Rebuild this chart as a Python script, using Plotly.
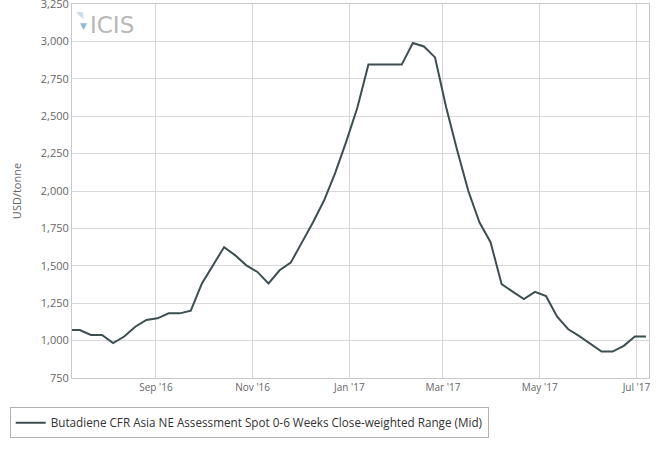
import plotly.graph_objects as go

dates = [
    "2016-07-08", "2016-07-15", "2016-07-22", "2016-07-29", "2016-08-05", "2016-08-12",
    "2016-08-19", "2016-08-26", "2016-09-02", "2016-09-09", "2016-09-16", "2016-09-23",
    "2016-09-30", "2016-10-07", "2016-10-14", "2016-10-21", "2016-10-28", "2016-11-04",
    "2016-11-11", "2016-11-18", "2016-11-25", "2016-12-02", "2016-12-09", "2016-12-16",
    "2016-12-23", "2016-12-30", "2017-01-06", "2017-01-13", "2017-01-20", "2017-01-27",
    "2017-02-03", "2017-02-10", "2017-02-17", "2017-02-24", "2017-03-03", "2017-03-10",
    "2017-03-17", "2017-03-24", "2017-03-31", "2017-04-07", "2017-04-14", "2017-04-21",
    "2017-04-28", "2017-05-05", "2017-05-12", "2017-05-19", "2017-05-26", "2017-06-02",
    "2017-06-09", "2017-06-16", "2017-06-23", "2017-06-30", "2017-07-07",
]
values = [
    1071, 1071, 1038, 1038, 983, 1027,
    1093, 1138, 1149, 1182, 1182, 1200,
    1382, 1503, 1625, 1570, 1503, 1459,
    1382, 1470, 1521, 1655, 1790, 1936,
    2120, 2330, 2556, 2845, 2845, 2845,
    2845, 2989, 2966, 2893, 2560, 2270,
    2000, 1791, 1658, 1377, 1327, 1277,
    1326, 1297, 1160, 1076, 1030, 980,
    927, 927, 965, 1027, 1027,
]
series_name = "Butadiene CFR Asia NE Assessment Spot 0-6 Weeks Close-weighted Range (Mid)"
y_title = "USD/tonne"
font_family = "Open Sans, DejaVu Sans, sans-serif"

fig = go.Figure()
fig.add_trace(go.Scatter(
    x=dates, y=values, mode="lines", name=series_name,
    line=dict(color="#3d4e50", width=2),
    showlegend=True,
))

fig.update_layout(
    width=661, height=451,
    margin=dict(l=72, r=12, t=4, b=73),
    paper_bgcolor="white", plot_bgcolor="white",
    font=dict(family=font_family, size=11, color="#666666"),
    showlegend=True,
    legend=dict(
        x=-0.108, y=-0.078, xanchor="left", yanchor="top",
        orientation="h",
        bordercolor="#b0b0b0", borderwidth=1,
        bgcolor="white",
        font=dict(size=11.7, color="#333333", family=font_family),
        itemwidth=30,
    ),
    xaxis=dict(
        type="date",
        range=["2016-07-10 02:00", "2017-07-08 22:00"],
        tick0="2016-09-01", dtick="M2",
        tickformat="%b '%y",
        showgrid=True, gridcolor="#d8d8d8", gridwidth=1,
        showline=True, linecolor="#c8c8c8", linewidth=1, mirror=True,
        ticks="", tickfont=dict(size=10, color="#666666"),
        zeroline=False, automargin=False,
    ),
    yaxis=dict(
        range=[750, 3250], dtick=250, tick0=750,
        tickformat=",",
        showgrid=True, gridcolor="#d8d8d8", gridwidth=1,
        showline=True, linecolor="#c8c8c8", linewidth=1, mirror=True,
        ticks="", tickfont=dict(size=11, color="#666666"),
        ticklabeloverflow="allow", automargin=False,
        title=dict(text=y_title, font=dict(size=11, color="#666666"), standoff=16),
        zeroline=False,
    ),
)

# ICIS watermark logo
fig.add_annotation(
    xref="paper", yref="paper", x=0.027, y=0.985, xanchor="left", yanchor="top",
    text="ICIS", showarrow=False,
    font=dict(size=23, color="#b8b8b8", family="DejaVu Sans, sans-serif"),
)
fig.add_annotation(
    xref="paper", yref="paper", x=0.004, y=0.995, xanchor="left", yanchor="top",
    text="◥", showarrow=False,
    font=dict(size=9, color="#c7dcea"),
)
fig.add_annotation(
    xref="paper", yref="paper", x=0.010, y=0.965, xanchor="left", yanchor="top",
    text="▼", showarrow=False,
    font=dict(size=9, color="#8fb8d4"),
)

fig.write_html("out.html")
